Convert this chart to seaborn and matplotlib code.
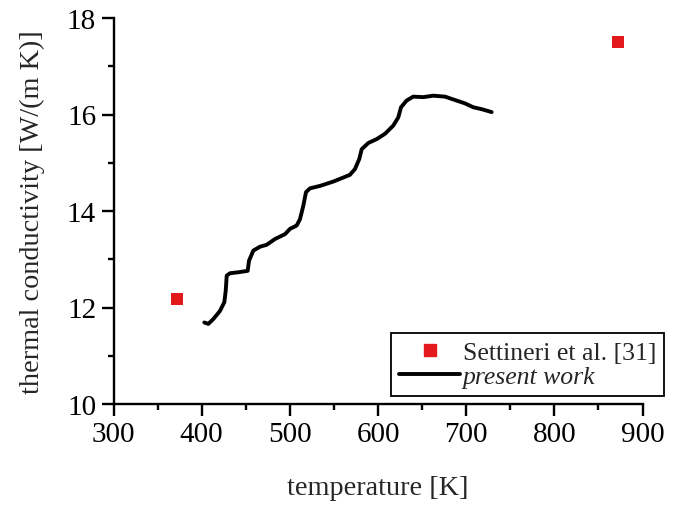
import matplotlib
matplotlib.use("Agg")
import matplotlib.pyplot as plt
import seaborn as sns
import pandas as pd
from matplotlib.ticker import MultipleLocator
from matplotlib.lines import Line2D

# Data
ref_temp = [372.5, 872.5]
ref_k = [12.18, 17.50]

work_temp = [403.0, 407.5, 413.2, 420.8, 425.7, 427.3, 428.4, 432.1, 441.5, 452.2,
             453.7, 458.6, 466.2, 473.8, 483.2, 494.5, 500.2, 507.8, 511.5, 515.3,
             518.3, 522.9, 534.2, 549.3, 558.8, 568.2, 573.9, 578.8, 581.5, 589.0,
             598.5, 607.9, 617.3, 623.0, 626.1, 632.5, 640.0, 651.4, 662.7, 676.0,
             687.3, 698.7, 708.1, 717.6, 728.9]
work_k = [11.69, 11.66, 11.76, 11.93, 12.11, 12.35, 12.66, 12.71, 12.73, 12.76,
          12.97, 13.18, 13.26, 13.30, 13.42, 13.52, 13.63, 13.70, 13.83, 14.11,
          14.39, 14.47, 14.52, 14.61, 14.68, 14.75, 14.87, 15.08, 15.28, 15.41,
          15.49, 15.60, 15.77, 15.94, 16.15, 16.29, 16.37, 16.36, 16.39, 16.37,
          16.30, 16.23, 16.15, 16.11, 16.05]

xlabel = "temperature [K]"
ylabel = "thermal conductivity [W/(m K)]"
ref_label = "Settineri et al. [31]"
work_label = "present work"

sns.set_style("ticks")
plt.rcParams['font.family'] = ['Liberation Serif', 'DejaVu Serif']

fig = plt.figure(figsize=(6.77, 5.06), dpi=100)
ax = fig.add_axes([113.5/677, 1-405/506, (642.5-113.5)/677, (405-19)/506])

df_work = pd.DataFrame({"T": work_temp, "k": work_k})
df_ref = pd.DataFrame({"T": ref_temp, "k": ref_k})

red = "#E31A1C"
sns.lineplot(data=df_work, x="T", y="k", sort=False, color="black", linewidth=2.8,
             ax=ax, legend=False)
sns.scatterplot(data=df_ref, x="T", y="k", marker="s", s=85, color=red,
                edgecolor=red, linewidth=0, ax=ax, legend=False, zorder=3)

ax.set_xlim(300, 900)
ax.set_ylim(10, 18)
ax.xaxis.set_major_locator(MultipleLocator(100))
ax.xaxis.set_minor_locator(MultipleLocator(50))
ax.yaxis.set_major_locator(MultipleLocator(2))
ax.yaxis.set_minor_locator(MultipleLocator(1))

for side in ["top", "right"]:
    ax.spines[side].set_visible(False)
for side in ["left", "bottom"]:
    ax.spines[side].set_linewidth(1.7)
    ax.spines[side].set_color("black")

ax.tick_params(which="major", direction="out", length=8.5, width=1.7, labelsize=21,
               colors="black", pad=4)
ax.tick_params(which="minor", direction="out", length=4.5, width=1.7, colors="black")

ax.set_xlabel(xlabel, fontsize=20.3, labelpad=20)
ax.set_ylabel(ylabel, fontsize=20.3, labelpad=16)

handles = [
    Line2D([], [], marker="s", linestyle="none", color=red, markersize=9),
    Line2D([], [], color="black", linewidth=2.8),
]
leg = fig.legend(handles, [ref_label, work_label], loc="lower right",
                 bbox_to_anchor=(664/677, 1-397/506), fontsize=18.5, frameon=True,
                 fancybox=False, edgecolor="black", framealpha=1,
                 borderpad=0.3, handlelength=2.4, handletextpad=0.1,
                 labelspacing=0.05, borderaxespad=0)
leg.get_frame().set_linewidth(1.3)
leg.get_texts()[1].set_fontstyle("italic")

fig.savefig("out.png", dpi=100)
